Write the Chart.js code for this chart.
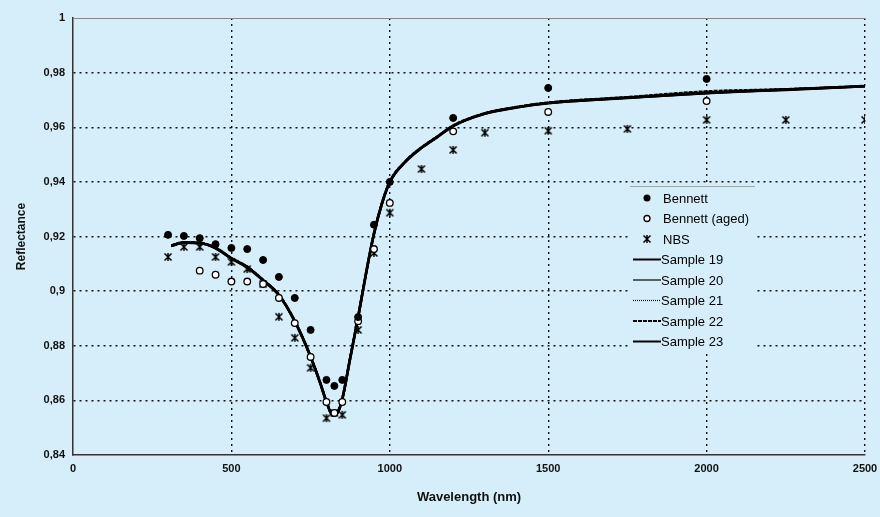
<!DOCTYPE html>
<html lang="en">
<head>
  <meta charset="UTF-8" />
  <title>Reflectance vs Wavelength</title>
  <script src="https://cdn.jsdelivr.net/npm/chart.js"></script>
  <style>
    body { margin: 0; background: #d6eefa; }
    canvas { display: block; }
  </style>
</head>
<body>
  <canvas id="reflChart" width="880" height="517"></canvas>

  <script>
    // Measured data points (wavelength in nm, reflectance)
    const bennettNm = [300, 350, 400, 450, 500, 550, 600, 650, 700, 750, 800, 825, 850, 900, 950, 1000, 1200, 1500, 2000];
    const bennett = [0.9206, 0.9202, 0.9194, 0.9172, 0.9158, 0.9154, 0.9114, 0.9052, 0.8975, 0.8858, 0.8675, 0.8653, 0.8675, 0.8905, 0.9243, 0.9400, 0.9634, 0.9744, 0.9777];

    const agedNm = [400, 450, 500, 550, 600, 650, 700, 750, 800, 825, 850, 900, 950, 1000, 1200, 1500, 2000];
    const bennettAged = [0.9075, 0.9060, 0.9035, 0.9035, 0.9026, 0.8975, 0.8883, 0.8759, 0.8594, 0.8554, 0.8594, 0.8890, 0.9154, 0.9323, 0.9585, 0.9656, 0.9696];

    const nbsNm = [300, 350, 400, 450, 500, 550, 600, 650, 700, 750, 800, 825, 850, 900, 950, 1000, 1100, 1200, 1300, 1500, 1750, 2000, 2250, 2500];
    const nbs = [0.9125, 0.9162, 0.9162, 0.9125, 0.9107, 0.9081, 0.9026, 0.8906, 0.8829, 0.8719, 0.8535, 0.8554, 0.8547, 0.8858, 0.9140, 0.9287, 0.9447, 0.9517, 0.9580, 0.9587, 0.9594, 0.9627, 0.9627, 0.9627];

    // Sample curves
    const curveNm = [310, 350, 400, 450, 500, 550, 600, 650, 700, 750, 780, 800, 820, 835, 850, 875, 900, 925, 950, 975, 1000, 1050, 1100, 1150, 1200, 1300, 1400, 1500, 1750, 2000, 2250, 2500];
    const sample19 = [0.9166, 0.9178, 0.9176, 0.9158, 0.9120, 0.9088, 0.9040, 0.8986, 0.8890, 0.8760, 0.8665, 0.8595, 0.8545, 0.8555, 0.8605, 0.8755, 0.8905, 0.9065, 0.9210, 0.9320, 0.9400, 0.9475, 0.9525, 0.9565, 0.9605, 0.9650, 0.9673, 0.9689, 0.9708, 0.9725, 0.9738, 0.9750];
    const sample20 = [0.9168, 0.9180, 0.9178, 0.9160, 0.9122, 0.9090, 0.9042, 0.8988, 0.8893, 0.8763, 0.8668, 0.8598, 0.8548, 0.8558, 0.8608, 0.8758, 0.8908, 0.9068, 0.9212, 0.9322, 0.9402, 0.9477, 0.9527, 0.9567, 0.9607, 0.9652, 0.9675, 0.9691, 0.9711, 0.9729, 0.9741, 0.9752];
    const sample21 = [0.9164, 0.9176, 0.9174, 0.9156, 0.9118, 0.9086, 0.9038, 0.8984, 0.8888, 0.8758, 0.8663, 0.8593, 0.8543, 0.8553, 0.8603, 0.8753, 0.8903, 0.9063, 0.9208, 0.9318, 0.9398, 0.9473, 0.9523, 0.9563, 0.9603, 0.9648, 0.9671, 0.9687, 0.9706, 0.9723, 0.9736, 0.9749];
    const sample22 = [0.9167, 0.9179, 0.9177, 0.9159, 0.9121, 0.9089, 0.9041, 0.8987, 0.8891, 0.8761, 0.8666, 0.8596, 0.8546, 0.8556, 0.8606, 0.8756, 0.8906, 0.9066, 0.9211, 0.9321, 0.9401, 0.9476, 0.9526, 0.9566, 0.9606, 0.9651, 0.9674, 0.9690, 0.9710, 0.9731, 0.9739, 0.9751];
    const sample23 = [0.9165, 0.9177, 0.9175, 0.9157, 0.9119, 0.9087, 0.9039, 0.8985, 0.8889, 0.8759, 0.8664, 0.8594, 0.8544, 0.8554, 0.8604, 0.8754, 0.8904, 0.9064, 0.9209, 0.9319, 0.9399, 0.9474, 0.9524, 0.9564, 0.9604, 0.9649, 0.9672, 0.9688, 0.9707, 0.9726, 0.9737, 0.9750];

    const BG = "#d6eefa";
    const FONT = "'Liberation Sans', Arial, sans-serif";

    function pts(xs, ys) {
      return xs.map((x, i) => ({ x: x, y: ys[i] }));
    }

    // asterisk-like marker (X with a vertical stroke), as in the original
    function starMarker() {
      const c = document.createElement("canvas");
      c.width = 10; c.height = 10;
      const g = c.getContext("2d");
      g.strokeStyle = "#000";
      g.lineWidth = 1.5;
      g.beginPath();
      g.moveTo(1.5, 1.5); g.lineTo(8.5, 8.5);
      g.moveTo(8.5, 1.5); g.lineTo(1.5, 8.5);
      g.moveTo(5, 1); g.lineTo(5, 9);
      g.stroke();
      return c;
    }
    const nbsMarker = starMarker();

    function sampleSet(label, values, width, dash) {
      return {
        label: label,
        data: pts(curveNm, values),
        showLine: true,
        borderColor: "#000",
        borderWidth: width,
        legendWidth: Math.min(width, 2),
        borderDash: dash || [],
        pointRadius: 0,
        cubicInterpolationMode: "monotone",
        kind: "line"
      };
    }

    const bgPlugin = {
      id: "bg",
      beforeDraw(chart) {
        const ctx = chart.ctx;
        ctx.save();
        ctx.fillStyle = BG;
        ctx.fillRect(0, 0, chart.width, chart.height);
        ctx.restore();
      },
      afterDraw(chart) {
        const ctx = chart.ctx;
        const a = chart.chartArea;
        // top frame line
        ctx.save();
        ctx.strokeStyle = "#888";
        ctx.lineWidth = 1;
        ctx.beginPath();
        ctx.moveTo(a.left, a.top + 0.5);
        ctx.lineTo(a.right, a.top + 0.5);
        ctx.stroke();

        // legend box inside the plot
        const lx = 630, ly = 186, lw = 125, lh = 166;
        ctx.fillStyle = BG;
        ctx.fillRect(lx, ly, lw, lh);
        ctx.strokeStyle = "#9aa";
        ctx.lineWidth = 1;
        ctx.beginPath();
        ctx.moveTo(lx, ly + 0.5); ctx.lineTo(lx + lw, ly + 0.5);
        ctx.stroke();

        ctx.font = "13px " + FONT;
        ctx.textBaseline = "middle";
        ctx.fillStyle = "#000";
        chart.data.datasets.forEach((ds, i) => {
          const y = ly + 12 + i * 20.5;
          if (ds.kind === "line") {
            ctx.save();
            ctx.strokeStyle = "#000";
            ctx.lineWidth = ds.legendWidth;
            ctx.setLineDash(ds.borderDash);
            ctx.beginPath();
            ctx.moveTo(lx + 3, y); ctx.lineTo(lx + 31, y);
            ctx.stroke();
            ctx.restore();
            ctx.fillText(ds.label, lx + 31, y + 1);
          } else {
            const mx = lx + 17;
            if (ds.kind === "filled") {
              ctx.beginPath(); ctx.arc(mx, y, 3.5, 0, Math.PI * 2); ctx.fill();
            } else if (ds.kind === "open") {
              ctx.beginPath(); ctx.arc(mx, y, 3, 0, Math.PI * 2);
              ctx.fillStyle = "#fff"; ctx.fill();
              ctx.strokeStyle = "#000"; ctx.lineWidth = 1.3; ctx.stroke();
              ctx.fillStyle = "#000";
            } else {
              ctx.drawImage(nbsMarker, Math.round(mx - 5), Math.round(y - 5));
            }
            ctx.fillText(ds.label, lx + 33, y + 1);
          }
        });
        ctx.restore();
      }
    };

    const tickFont = { family: FONT, size: 11, weight: "bold" };

    new Chart(document.getElementById("reflChart"), {
      type: "scatter",
      data: {
        datasets: [
          { label: "Bennett", data: pts(bennettNm, bennett), pointRadius: 3.5, pointBackgroundColor: "#000", pointBorderColor: "#000", kind: "filled" },
          { label: "Bennett (aged)", data: pts(agedNm, bennettAged), pointRadius: 3.3, pointBackgroundColor: "#fff", pointBorderColor: "#000", pointBorderWidth: 1.3, kind: "open" },
          { label: "NBS", data: pts(nbsNm, nbs), pointStyle: nbsMarker, kind: "star" },
          sampleSet("Sample 19", sample19, 2.6),
          sampleSet("Sample 20", sample20, 1.2),
          sampleSet("Sample 21", sample21, 1.2, [1, 1]),
          sampleSet("Sample 22", sample22, 2.6, [4, 1]),
          sampleSet("Sample 23", sample23, 2.6)
        ]
      },
      options: {
        responsive: false,
        animation: false,
        layout: { padding: { top: 18, right: 15, left: 14, bottom: 12 } },
        plugins: {
          legend: { display: false },
          tooltip: { enabled: false }
        },
        scales: {
          x: {
            type: "linear",
            min: 0,
            max: 2500,
            ticks: { stepSize: 500, color: "#111", font: tickFont, padding: 7, callback: v => String(v) },
            grid: {
              drawTicks: false,
              lineWidth: 1.4,
              color: ctx => ctx.tick && ctx.tick.value === 0 ? "rgba(0,0,0,0)" : "#111"
            },
            border: { color: "#333", width: 1.5, dash: [2, 4] },
            title: {
              display: true,
              text: "Wavelength (nm)",
              color: "#111",
              font: { family: FONT, size: 13, weight: "bold" },
              padding: 0
            },
            afterFit: s => { s.height = 50; s.paddingLeft = 0; s.paddingRight = 0; }
          },
          y: {
            min: 0.84,
            max: 1,
            ticks: {
              stepSize: 0.02,
              color: "#111",
              font: tickFont,
              padding: 8,
              callback: v => String(Number(v.toFixed(2))).replace(".", ",")
            },
            grid: {
              drawTicks: false,
              lineWidth: 1.4,
              color: ctx => {
                const v = ctx.tick ? Number(ctx.tick.value.toFixed(2)) : 0;
                return v === 0.84 || v === 1 ? "rgba(0,0,0,0)" : "#111";
              }
            },
            border: { color: "#333", width: 1.5, dash: [2, 4] },
            title: {
              display: true,
              text: "Reflectance",
              color: "#111",
              font: { family: FONT, size: 12, weight: "bold" },
              padding: 0
            },
            afterFit: s => { s.width = 59; s.paddingTop = 0; s.paddingBottom = 0; }
          }
        }
      },
      plugins: [bgPlugin]
    });
  </script>
</body>
</html>
